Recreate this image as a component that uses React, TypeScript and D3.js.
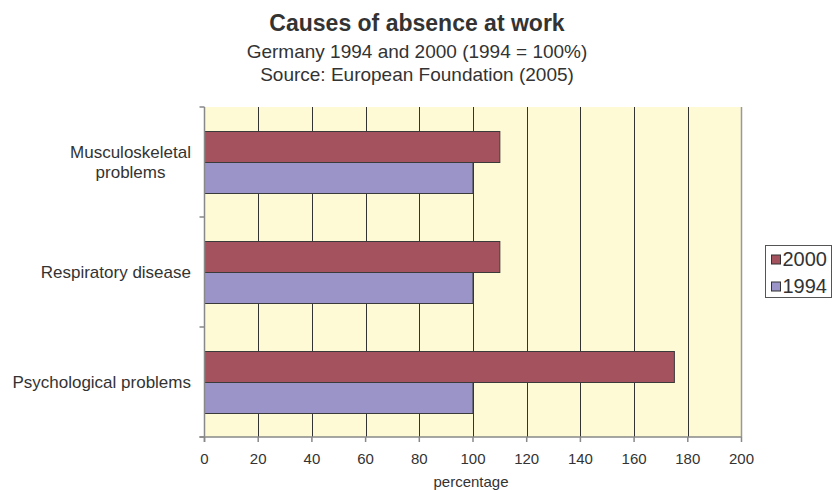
import React, { useEffect, useRef } from "react";
import * as d3 from "d3";

// Causes of absence at work, Germany, index 1994 = 100
const categories: string[][] = [
  ["Musculoskeletal", "problems"],
  ["Respiratory disease"],
  ["Psychological problems"],
];
const seriesNames = ["2000", "1994"];
const values2000 = [110, 110, 175];
const values1994 = [100, 100, 100];
const xTicks = [0, 20, 40, 60, 80, 100, 120, 140, 160, 180, 200];
const seriesColors = ["#A5525F", "#9A94C8"];

const W = 834;
const H = 490;
const FONT = "'Liberation Sans', Arial, Helvetica, sans-serif";

export default function App() {
  const ref = useRef<SVGSVGElement | null>(null);

  useEffect(() => {
    const svg = d3.select(ref.current);
    svg.selectAll("*").remove();

    const left = 204.5;
    const right = 741.5;
    const top = 107;
    const bottom = 437;

    const x = d3.scaleLinear().domain([0, 200]).range([left, right]);
    const catKeys = categories.map((c) => c.join(" "));
    const y = d3.scaleBand<string>().domain(catKeys).range([top, bottom]);
    const inner = d3
      .scaleBand<string>()
      .domain(seriesNames)
      .range([24, y.bandwidth() - 24]);

    // titles
    svg
      .append("text")
      .attr("x", 417)
      .attr("y", 31)
      .attr("text-anchor", "middle")
      .attr("font-family", FONT)
      .attr("font-size", 23)
      .attr("font-weight", "bold")
      .attr("fill", "#333")
      .text("Causes of absence at work");
    svg
      .append("text")
      .attr("x", 417)
      .attr("y", 58)
      .attr("text-anchor", "middle")
      .attr("font-family", FONT)
      .attr("font-size", 19)
      .attr("fill", "#333")
      .text("Germany 1994 and 2000 (1994 = 100%)");
    svg
      .append("text")
      .attr("x", 417)
      .attr("y", 81)
      .attr("text-anchor", "middle")
      .attr("font-family", FONT)
      .attr("font-size", 19)
      .attr("fill", "#333")
      .text("Source: European Foundation (2005)");

    // plot background
    svg
      .append("rect")
      .attr("x", left)
      .attr("y", top)
      .attr("width", right - left)
      .attr("height", bottom - top)
      .attr("fill", "#FFFAD6");

    // gridlines
    svg
      .append("g")
      .selectAll("line")
      .data(xTicks.filter((t) => t > 0 && t < 200))
      .join("line")
      .attr("x1", (d) => Math.round(x(d)) + 0.5)
      .attr("x2", (d) => Math.round(x(d)) + 0.5)
      .attr("y1", top)
      .attr("y2", bottom)
      .attr("stroke", "#333")
      .attr("stroke-width", 1);
    // right border
    svg
      .append("line")
      .attr("x1", right)
      .attr("x2", right)
      .attr("y1", top)
      .attr("y2", bottom)
      .attr("stroke", "#999")
      .attr("stroke-width", 1.5);

    // bars
    const data = categories.map((c, i) => ({
      key: c.join(" "),
      vals: [values2000[i], values1994[i]],
    }));
    const groups = svg
      .append("g")
      .selectAll("g")
      .data(data)
      .join("g")
      .attr("transform", (d) => `translate(0,${y(d.key)})`);
    groups
      .selectAll("rect")
      .data((d) => d.vals.map((v, j) => ({ v, s: seriesNames[j], j })))
      .join("rect")
      .attr("x", x(0))
      .attr("y", (d) => (inner(d.s) as number) + 0.5)
      .attr("width", (d) => x(d.v) - x(0))
      .attr("height", inner.bandwidth())
      .attr("fill", (d) => seriesColors[d.j])
      .attr("stroke", "#3a3a3a")
      .attr("stroke-width", 1);

    // left axis
    svg
      .append("line")
      .attr("x1", left)
      .attr("x2", left)
      .attr("y1", top)
      .attr("y2", bottom + 5)
      .attr("stroke", "#888")
      .attr("stroke-width", 1.5);
    const yTickPos = [top, ...catKeys.map((k) => (y(k) as number) + y.step())];
    svg
      .append("g")
      .selectAll("line")
      .data(yTickPos)
      .join("line")
      .attr("x1", left - 5)
      .attr("x2", left)
      .attr("y1", (d) => d)
      .attr("y2", (d) => d)
      .attr("stroke", "#888")
      .attr("stroke-width", 1.5);

    // bottom axis
    svg
      .append("line")
      .attr("x1", left - 5)
      .attr("x2", right)
      .attr("y1", bottom)
      .attr("y2", bottom)
      .attr("stroke", "#888")
      .attr("stroke-width", 1.5);
    const xt = svg.append("g");
    xt.selectAll("line")
      .data(xTicks)
      .join("line")
      .attr("x1", (d) => x(d))
      .attr("x2", (d) => x(d))
      .attr("y1", bottom)
      .attr("y2", bottom + 5)
      .attr("stroke", "#888")
      .attr("stroke-width", 1.5);
    xt.selectAll("text")
      .data(xTicks)
      .join("text")
      .attr("x", (d) => x(d))
      .attr("y", 464)
      .attr("text-anchor", "middle")
      .attr("font-family", FONT)
      .attr("font-size", 15)
      .attr("fill", "#333")
      .text((d) => String(d));
    svg
      .append("text")
      .attr("x", x(100) - 2)
      .attr("y", 487)
      .attr("text-anchor", "middle")
      .attr("font-family", FONT)
      .attr("font-size", 15)
      .attr("fill", "#333")
      .text("percentage");

    // category labels, multi-line labels centered as a block, right-aligned
    const labelRight = 191;
    categories.forEach((lines, i) => {
      const cy = (y(catKeys[i]) as number) + y.bandwidth() / 2;
      const lh = 20;
      const t = svg
        .append("text")
        .attr("font-family", FONT)
        .attr("font-size", 17)
        .attr("fill", "#333");
      const spans = lines.map((ln, k) =>
        t
          .append("tspan")
          .attr("y", cy + 5.5 + (k - (lines.length - 1) / 2) * lh)
          .text(ln)
      );
      const widths = spans.map((s) => (s.node() as SVGTSpanElement).getComputedTextLength());
      const maxW = Math.max(...widths);
      if (lines.length > 1) {
        spans.forEach((s) => s.attr("x", labelRight - maxW / 2).attr("text-anchor", "middle"));
      } else {
        spans.forEach((s) => s.attr("x", labelRight).attr("text-anchor", "end"));
      }
    });

    // legend
    const lg = svg.append("g").attr("transform", "translate(765.5,245.5)");
    lg.append("rect")
      .attr("width", 66)
      .attr("height", 52)
      .attr("fill", "white")
      .attr("stroke", "#555")
      .attr("stroke-width", 1);
    seriesNames.forEach((s, i) => {
      lg.append("rect")
        .attr("x", 6)
        .attr("y", 9.5 + i * 27)
        .attr("width", 9)
        .attr("height", 9)
        .attr("fill", seriesColors[i])
        .attr("stroke", "#333");
      lg.append("text")
        .attr("x", 17)
        .attr("y", 20 + i * 27)
        .attr("font-family", FONT)
        .attr("font-size", 20)
        .attr("fill", "#333")
        .text(s);
    });
  }, []);

  return (
    <svg
      ref={ref}
      width={W}
      height={H}
      style={{ position: "absolute", left: 0, top: 0, background: "white" }}
    />
  );
}
